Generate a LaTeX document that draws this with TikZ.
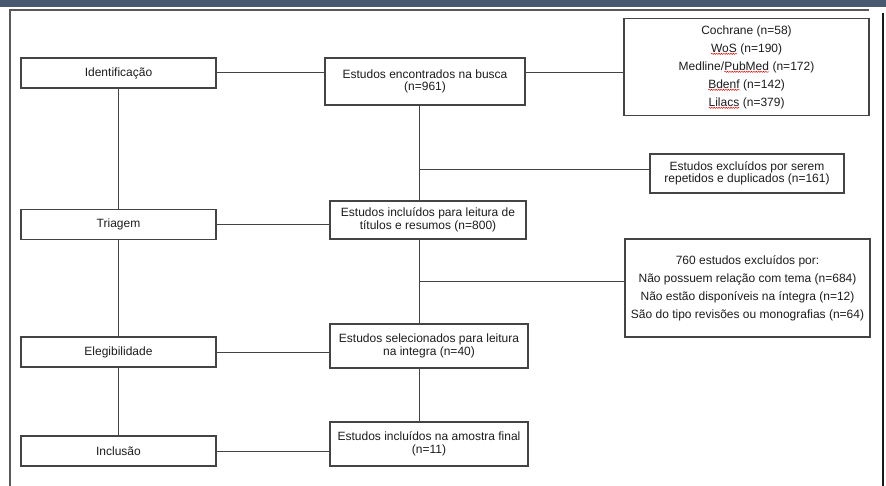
\documentclass[tikz,border=0pt]{standalone}
\usepackage{fontspec}
\setmainfont{Liberation Sans}
\usetikzlibrary{positioning,calc,decorations.pathmorphing}
\definecolor{band}{RGB}{72,89,112}
\definecolor{boxline}{RGB}{68,68,68}
\definecolor{ink}{RGB}{28,28,28}
\newcommand{\spellmark}[1]{\tikz[baseline=(sw.base)]{\node[inner sep=0pt, outer sep=0pt, draw=none, minimum width=0pt, minimum height=0pt] (sw) {#1};
    \draw[red!85!black, line width=0.45pt, decorate, decoration={snake, amplitude=0.6pt, segment length=2.4pt}] ([yshift=-1.8pt]sw.base west) -- ([yshift=-1.8pt]sw.base east);}}

\begin{document}
\begin{tikzpicture}[x=1pt, y=-1pt,
    stage/.style={draw=boxline, line width=1.1pt, text=ink, font=\fontsize{12}{12.5}\selectfont, minimum width=195pt, minimum height=30pt, inner sep=0pt},
    flow/.style={draw=boxline, line width=1.1pt, text=ink, font=\fontsize{12}{12.5}\selectfont, align=center, inner sep=0pt},
    list/.style={flow, font=\fontsize{12}{18}\selectfont},
    link/.style={draw=boxline, line width=1pt}]
    \useasboundingbox (0,0) rectangle (886,486);
    % page frame
    \fill[band] (0,0) rectangle (886,7.5);
    \draw[black!65, line width=1.5pt] (10,486) -- (10,10) -- (869,10);
    \draw[black!90, line width=1.5pt] (883,13) -- (883,486);

    % stages
    \node[stage] (ident) at (118.5,73) {Identificação};
    \node[stage] (triag) at (118.5,224.5) {Triagem};
    \node[stage] (eleg) at (118.5,352) {Elegibilidade};
    \node[stage] (incl) at (118.5,451) {Inclusão};

    % main flow
    \node[flow, minimum width=200pt, minimum height=47pt] (busca) at (425,81.5) {Estudos encontrados na busca\\(n=961)};
    \node[flow, minimum width=196pt, minimum height=38pt] (leit) at (428,220) {Estudos incluídos para leitura de\\títulos e resumos (n=800)};
    \node[flow, minimum width=198pt, minimum height=44pt] (selec) at (429,346) {Estudos selecionados para leitura\\na integra (n=40)};
    \node[flow, minimum width=198pt, minimum height=44pt] (final) at (429,444) {Estudos incluídos na amostra final\\(n=11)};

    % side boxes
    \node[list, minimum width=245pt, minimum height=97.5pt] (bases) at (746.5,67) {Cochrane (n=58)\\\spellmark{WoS} (n=190)\\Medline/\spellmark{PubMed} (n=172)\\\spellmark{Bdenf} (n=142)\\\spellmark{Lilacs} (n=379)};
    \node[flow, minimum width=194pt, minimum height=39pt] (repet) at (747,173.5) {Estudos excluídos por serem\\repetidos e duplicados (n=161)};
    \node[list, minimum width=245pt, minimum height=98pt] (exclu) at (747.5,288) {760 estudos excluídos por:\\Não possuem relação com tema (n=684)\\Não estão disponíveis na íntegra (n=12)\\São do tipo revisões ou monografias (n=64)};

    \coordinate (spine) at (419,0);
    \coordinate (cut1) at (419,170);
    \coordinate (cut2) at (419,282);

    % connectors
    \draw[link] (ident.south) -- (triag.north);
    \draw[link] (triag.south) -- (eleg.north);
    \draw[link] (eleg.south) -- (incl.north);
    \draw[link] (ident.east) -- (ident.east -| busca.west);
    \draw[link] (ident.east -| busca.east) -- (ident.east -| bases.west);
    \draw[link] (triag.east) -- (triag.east -| leit.west);
    \draw[link] (eleg.east) -- (eleg.east -| selec.west);
    \draw[link] (incl.east) -- (incl.east -| final.west);
    \draw[link] (busca.south -| spine) -- (leit.north -| spine);
    \draw[link] (leit.south -| spine) -- (selec.north -| spine);
    \draw[link] (selec.south -| spine) -- (final.north -| spine);
    \draw[link] (cut1) -- (cut1 -| repet.west);
    \draw[link] (cut2) -- (cut2 -| exclu.west);
\end{tikzpicture}
\end{document}
